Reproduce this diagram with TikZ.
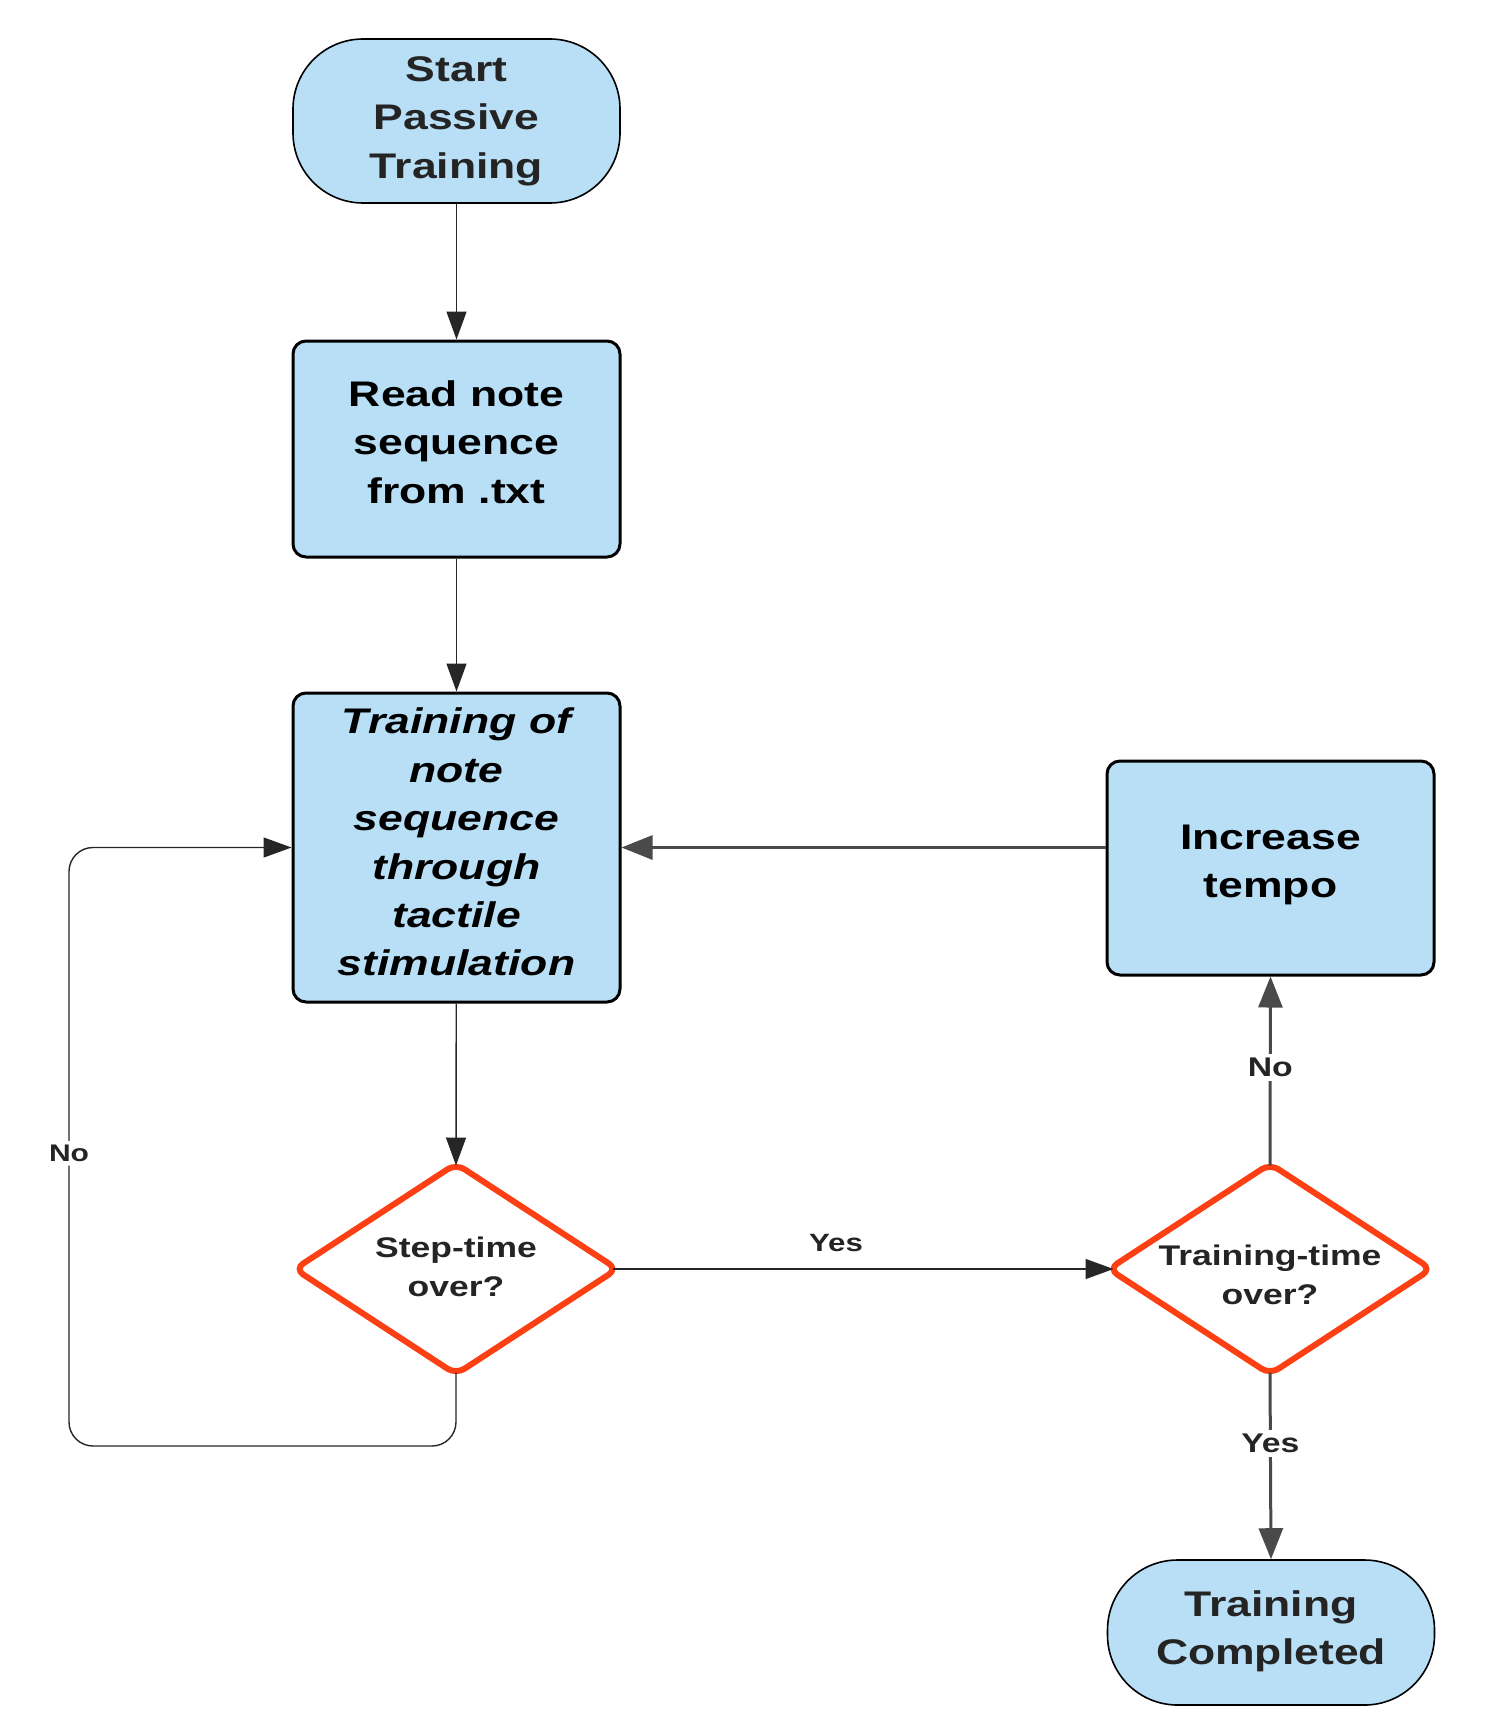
\documentclass[tikz,border=0pt]{standalone}
\usepackage{fontspec}
\setmainfont{Liberation Sans}[FakeStretch=1.25]
\usetikzlibrary{shapes.geometric,arrows.meta}

\definecolor{boxblue}{RGB}{184,223,246}
\definecolor{decred}{RGB}{252,64,20}
\definecolor{flowgrey}{RGB}{74,74,74}
\definecolor{inkdark}{RGB}{36,36,36}

% extra depth below the last line lifts the text block inside its box
\newcommand{\lift}[1]{\rule[-#1]{0pt}{#1}}

\begin{document}
\begin{tikzpicture}[x=0.5pt,y=-0.5pt,
  bigtext/.style={font=\bfseries\fontsize{17.8}{24.2}\selectfont},
  terminal/.style={draw=black, line width=0.8pt, fill=boxblue, rounded corners=35pt,
    minimum width=163.5pt, align=center, inner sep=0pt, text=inkdark, bigtext},
  process/.style={draw=black, line width=1.5pt, fill=boxblue, rounded corners=6.5pt,
    minimum width=163.5pt, align=center, inner sep=0pt, text=black, bigtext},
  decision/.style={diamond, draw=decred, line width=3pt, fill=white, rounded corners=5pt,
    minimum width=162.5pt, minimum height=106.5pt, inner sep=0pt},
  dectext/.style={align=center, inner sep=0pt, text=inkdark,
    font=\bfseries\fontsize{14.2}{19.5}\selectfont},
  thinflow/.style={draw=black!85, line width=0.7pt, -{Triangle[length=14pt,width=10pt]}},
  thickflow/.style={draw=flowgrey, line width=1.5pt, -{Triangle[length=15.5pt,width=12pt]}},
  lbl/.style={fill=white, inner sep=2pt, text=inkdark},
]
\useasboundingbox (0,0) rectangle (1485,1728);

% main column
\node[terminal, minimum height=82pt] (start) at (456.5,121) {Start\\Passive\\Training};
\node[process, minimum height=108pt] (read) at (456.5,449) {Read note\\sequence\\from .txt\lift{7pt}};
\node[process, minimum height=154.5pt] (train) at (456.5,847.5)
  {\itshape Training of\\\itshape note\\\itshape sequence\\\itshape through\\\itshape tactile\\\itshape stimulation\lift{5.5pt}};
\node[decision] (step) at (456,1269) {};
\node[dectext] (steptext) at (456,1267) {Step-time\\over?};

% right column
\node[process, minimum height=107pt] (tempo) at (1270.5,868) {Increase\\tempo\lift{7pt}};
\node[decision] (ttime) at (1270,1269) {};
\node[dectext] (ttimetext) at (1270,1275) {Training-time\\over?};
\node[terminal, minimum height=72.5pt] (done) at (1271,1632.5) {Training\\Completed\lift{5pt}};

% loop helpers
\coordinate (loopL) at (69,0);
\coordinate (loopB) at (0,1446);

% connectors (diamond ends pulled in to meet the rounded tips)
\draw[thinflow] (start) -- (read);
\draw[thinflow] (read) -- (train);
\draw[thinflow] (train) -- ([yshift=-3pt]step.north);
\draw[thinflow, rounded corners=12pt] ([yshift=3pt]step.south) -- (step.south |- loopB) -- (loopL |- loopB)
  -- node[lbl, pos=0.489, font=\bfseries\fontsize{12}{14}\selectfont] (nostep) {No} (loopL |- train.west) -- (train.west);
\draw[thinflow] ([xshift=-4.5pt]step.east) -- ([xshift=4.5pt]ttime.west);
\node[text=inkdark, font=\bfseries\fontsize{12.5}{14}\selectfont] (yesstep) at (836,1243) {Yes};
\draw[thickflow] ([yshift=-3pt]ttime.north) -- node[lbl, pos=0.52, font=\bfseries\fontsize{13.5}{16}\selectfont] (nott) {No} (tempo.south);
\draw[thickflow] ([yshift=3pt]ttime.south) -- node[lbl, pos=0.38, font=\bfseries\fontsize{13.5}{16}\selectfont] (yestt) {Yes} (done.north);
\draw[thickflow] (tempo.west |- train.east) -- (train.east);
\end{tikzpicture}
\end{document}
